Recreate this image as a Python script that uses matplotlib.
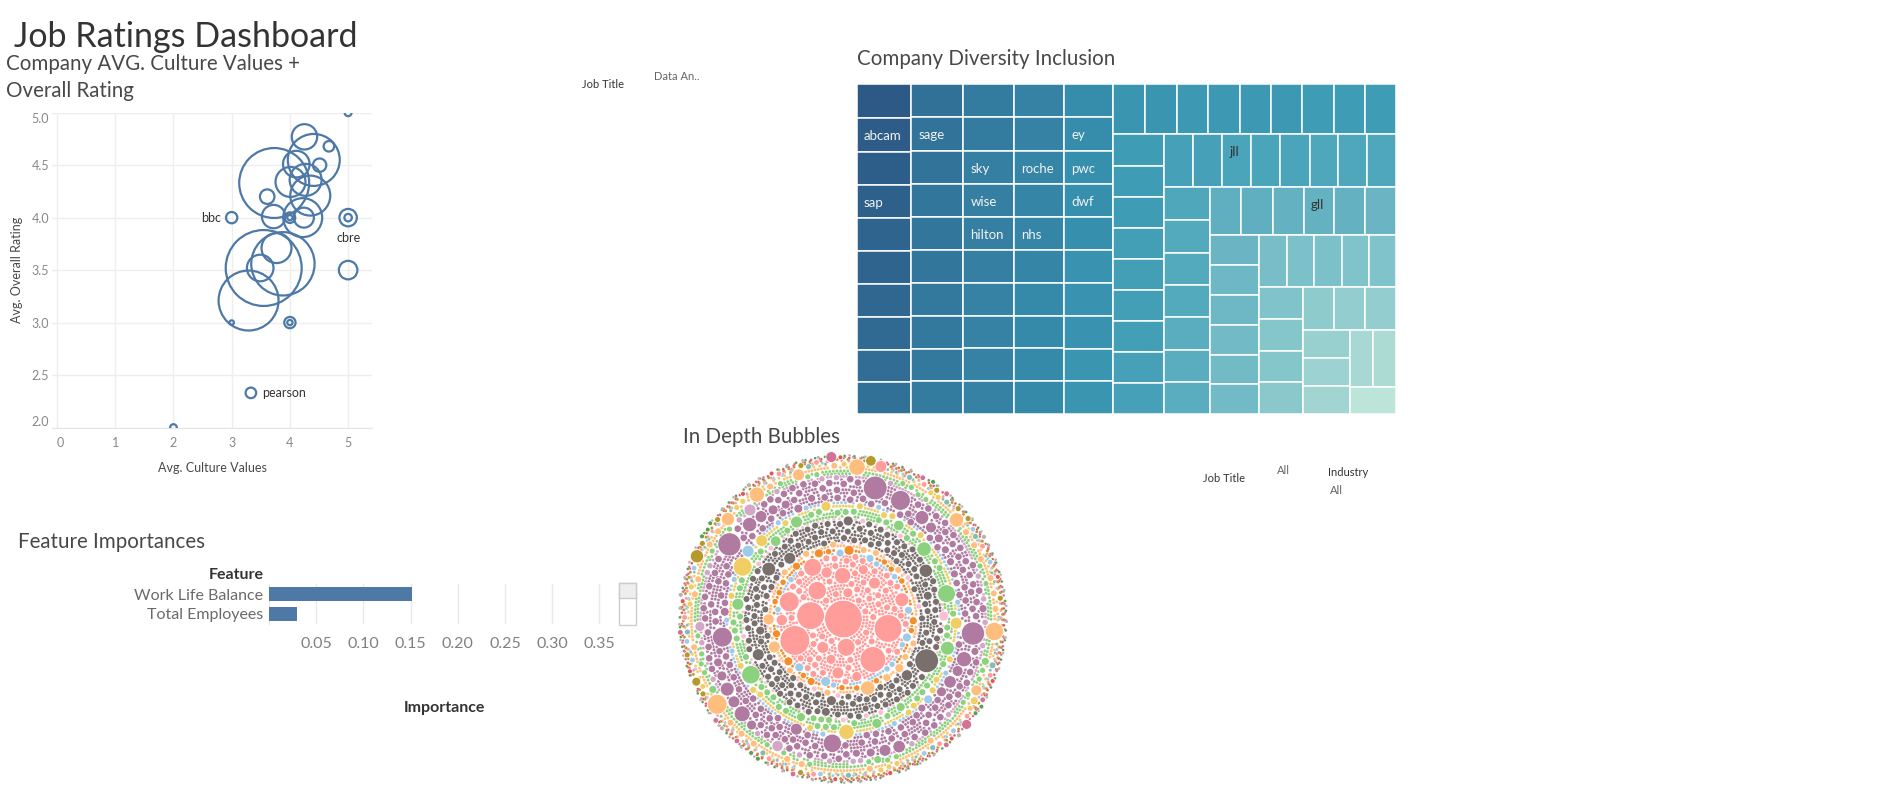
import math
import numpy as np
import matplotlib
matplotlib.use('Agg')
import matplotlib.pyplot as plt
from matplotlib.patches import Circle, Rectangle
from matplotlib.collections import PatchCollection
from matplotlib.colors import LinearSegmentedColormap, Normalize

W, H = 1881, 790
plt.rcParams['font.family'] = ['Lato', 'DejaVu Sans']

# ---------------- data ----------------
# scatter: avg culture values vs avg overall rating, size = reviews
sc_culture = [5.0, 4.25, 4.67, 4.41, 3.73, 4.11, 4.51, 4.01, 4.27, 4.35, 3.61, 3.72, 4.0, 4.0, 4.24,
              4.22, 3.0, 5.0, 5.0, 3.49, 3.77, 3.55, 3.88, 3.29, 3.0, 4.0, 4.0, 5.0, 3.33, 2.0]
sc_rating = [5.0, 4.77, 4.68, 4.55, 4.33, 4.51, 4.50, 4.34, 4.36, 4.21, 4.20, 4.01, 4.0, 4.0, 4.0,
             4.0, 4.0, 4.0, 4.0, 3.52, 3.71, 3.52, 3.56, 3.21, 3.0, 3.0, 3.0, 3.5, 2.33, 2.0]
sc_reviews = [12, 161, 28, 676, 1225, 177, 45, 225, 256, 400, 53, 137, 28, 7, 100,
              380, 32, 76, 14, 177, 225, 1444, 1005, 900, 5, 32, 7, 86, 28, 11]
sc_label_idx = [16, 17, 28]
sc_label_txt = ['bbc', 'cbre', 'pearson']

# treemap: company diversity & inclusion
tm_values = [151, 150, 149, 148, 147, 147, 146, 145, 144, 143,
             143, 142, 142, 141, 141, 141, 140, 140, 140, 139,
             139, 139, 138, 138, 138, 138, 137, 137, 137, 137,
             137, 137, 136, 136, 136, 136, 135, 135, 135, 135,
             134, 134, 133, 133, 133, 132, 132, 132, 131, 131,
             131, 131, 130, 130, 130, 130, 129, 129, 129,
             129, 129, 129, 128, 128, 128, 128, 127, 127,
             127, 127, 126, 126, 126, 125, 125, 125,
             125, 124, 124, 124, 123, 123, 123,
             122, 122, 121, 121, 121, 120,
             120, 119, 119, 118, 118, 118,
             117, 116, 116, 115, 115,
             115, 114, 114, 113,
             112, 111, 111,
             110, 109, 108,
             107, 106,
             103]
tm_label_idx = [1, 3, 11, 22, 23, 24, 32, 34, 41, 42, 43, 70, 86]
tm_label_txt = ['abcam', 'sap', 'sage', 'sky', 'wise', 'hilton', 'roche', 'nhs',
                'ey', 'pwc', 'dwf', 'jll', 'gll']

# feature importances
feat_names = ['Work Life Balance', 'Total Employees']
feat_imp = [0.151, 0.030]

# packed bubbles, colour groups from centre outwards
bub_group = ['pink', 'lblue', 'orange', 'lorange', 'lpink', 'gray', 'lpink', 'lgreen', 'yellow',
             'lblue', 'purple', 'lpurple', 'lgreen', 'lorange', 'yellow', 'teal', 'lblue', 'pink',
             'olive', 'red', 'dpink', 'green', 'lgray']
bub_big = [
    [361, 225, 196, 196, 169, 100, 86, 81, 81, 69, 49, 36, 36, 36, 32, 32, 25, 25, 25, 25],
    [25, 20, 20, 16, 16, 16],
    [25, 20, 20, 16, 16, 16, 16],
    [86, 53, 36, 32, 20, 16],
    [],
    [144, 49, 45, 36, 36, 32, 25, 25, 20, 20, 20],
    [25],
    [121, 86, 81, 53, 49, 36, 36, 28, 28, 25, 20, 20],
    [90, 59, 36, 36, 25],
    [36, 20],
    [144, 137, 137, 100, 100, 86, 64, 59, 53, 49, 49, 40, 40, 36, 36, 36, 36, 30, 30, 25, 25, 25,
     25, 20, 20, 20, 20, 20, 20, 16, 16, 16, 16, 16, 16, 16, 16],
    [36, 32, 25],
    [16, 16, 16],
    [100, 86, 69, 59, 53, 45, 36, 30],
    [16],
    [12],
    [],
    [36],
    [45, 28, 20],
    [],
    [30, 25],
    [],
    [],
]
bub_n_mid = [55, 8, 12, 10, 4, 120, 8, 40, 15, 10, 130, 20, 25, 20, 12, 8, 8, 10, 10, 10, 8, 8, 5]
bub_mid = [12, 10, 10, 12, 8, 12, 8, 12, 12, 9, 14, 10, 9, 12, 9, 9, 8, 8, 9, 6, 8, 6, 6]
bub_n_small = [330, 60, 70, 80, 40, 550, 80, 250, 150, 130, 620, 170, 400, 160, 110, 75,
               70, 90, 110, 150, 60, 80, 50]
bub_small = [2.5] * 19 + [2.0, 2.0, 2.0, 2.0]

# ---------------- styles ----------------
BLUE = '#4e79a7'
pal = {'pink': '#ff9d9a', 'lblue': '#a0cbe8', 'orange': '#f28e2b', 'lorange': '#ffbe7d',
       'lpink': '#fabfd2', 'gray': '#79706e', 'lgreen': '#8cd17d', 'yellow': '#f1ce63',
       'purple': '#b07aa1', 'lpurple': '#d4a6c8', 'teal': '#86bcb6', 'olive': '#b6992d',
       'red': '#e15759', 'dpink': '#d37295', 'green': '#59a14f', 'lgray': '#bab0ac'}
blue_teal = ['#bce4d8', '#aedcd5', '#a1d5d2', '#95cecf', '#89c8cc', '#7ec1ca', '#72bac6',
             '#66b2c2', '#59acbe', '#4ba5ba', '#419eb6', '#3b96b2', '#358ead', '#3586a7',
             '#347ea1', '#32779b', '#316f96', '#2f6790', '#2d608a', '#2c5985']
TXT = '#484848'

fig = plt.figure(figsize=(W / 100, H / 100), dpi=100)


def ftext(x, y, s, **kw):
    return fig.text(x / W, 1 - y / H, s, **kw)


def px_axes(x0, y0, x1, y1):
    return fig.add_axes([x0 / W, 1 - y1 / H, (x1 - x0) / W, (y1 - y0) / H])


# ---------------- titles ----------------
ftext(14, 47, 'Job Ratings Dashboard', fontsize=24.5, color='#333333', va='baseline')
ftext(6, 70, 'Company AVG. Culture Values +', fontsize=14.8, color=TXT, va='baseline')
ftext(6, 97, 'Overall Rating', fontsize=14.8, color=TXT, va='baseline')
ftext(857, 65, 'Company Diversity Inclusion', fontsize=14.8, color=TXT, va='baseline')
ftext(683, 443, 'In Depth Bubbles', fontsize=14.8, color=TXT, va='baseline')
ftext(18, 548, 'Feature Importances', fontsize=14.8, color=TXT, va='baseline')

# filters
ftext(582, 85, 'Job Title', fontsize=8, color='#333333', va='center')
ftext(654, 76, 'Data An..', fontsize=8, color='#666666', va='center')
ftext(1203, 479, 'Job Title', fontsize=8, color='#333333', va='center')
ftext(1277, 471, 'All', fontsize=8, color='#666666', va='center')
ftext(1328, 472, 'Industry', fontsize=8, color='#333333', va='center')
ftext(1330, 490, 'All', fontsize=8, color='#666666', va='center')

# ---------------- scatter ----------------
ax = px_axes(52, 112.7, 372, 427.5)
ax.set_xlim(-0.086, 5.41)
ax.set_ylim(2.0, 5.0)
sizes = [v * 2.07 for v in sc_reviews]
ax.scatter(sc_culture, sc_rating, s=sizes, facecolors='none', edgecolors=BLUE,
           linewidths=1.6, zorder=3, clip_on=True)
for s in ['top', 'right', 'left']:
    ax.spines[s].set_visible(False)
ax.spines['bottom'].set_color('#e6e6e6')
ax.set_xticks(range(6))
ax.set_xticklabels([str(i) for i in range(6)])
yt = [2.0, 2.5, 3.0, 3.5, 4.0, 4.5, 5.0]
ax.set_yticks(yt)
ax.set_yticklabels(['%.1f' % v for v in yt])
ax.tick_params(axis='x', length=0, pad=7, labelsize=9, labelcolor='#888888')
ax.tick_params(axis='y', length=0, pad=2, labelsize=9, labelcolor='#888888')
ax.get_xticklabels()[0].set_horizontalalignment('left')
ax.get_yticklabels()[0].set_verticalalignment('bottom')
ax.get_yticklabels()[-1].set_verticalalignment('top')
ax.grid(True, color='#eeeeee', linewidth=1)
ax.set_axisbelow(True)
ax.set_xlabel('Avg. Culture Values', fontsize=9, color=TXT, labelpad=9)
ax.set_ylabel('Avg. Overall Rating', fontsize=9, color=TXT, labelpad=6)
for i, t in zip(sc_label_idx, sc_label_txt):
    r_pt = np.sqrt(sc_reviews[i]) * 0.72
    if t == 'bbc':
        ax.annotate(t, (sc_culture[i], sc_rating[i]), xytext=(-r_pt - 3.5, 0),
                    textcoords='offset points', ha='right', va='center', fontsize=9, color='#333333')
    elif t == 'cbre':
        ax.annotate(t, (sc_culture[i], sc_rating[i]), xytext=(0, -14.5),
                    textcoords='offset points', ha='center', va='center', fontsize=9, color='#333333')
    else:
        ax.annotate(t, (sc_culture[i], sc_rating[i]), xytext=(r_pt + 4, 0),
                    textcoords='offset points', ha='left', va='center', fontsize=9, color='#333333')

# ---------------- treemap ----------------
tx0, ty0, tx1, ty1 = 857, 84, 1396, 414
axt = px_axes(tx0, ty0, tx1, ty1)
tw, th = tx1 - tx0, ty1 - ty0
axt.set_xlim(0, tw)
axt.set_ylim(th, 0)
axt.axis('off')
strips = [('v', 10)] * 5 + [('h', 9), ('v', 9), ('h', 8), ('v', 7), ('h', 6), ('v', 6),
                            ('h', 5), ('v', 4), ('h', 3), ('v', 3), ('h', 2), ('v', 1)]
cmap = LinearSegmentedColormap.from_list('bt', blue_teal)
norm = Normalize(min(tm_values), max(tm_values))
rx, ry, rw, rh = 0.0, 0.0, float(tw), float(th)
rem = float(sum(tm_values))
pos = 0
cells = []
for orient, n in strips:
    vals = tm_values[pos:pos + n]
    s = sum(vals)
    if orient == 'v':
        cw = rw * s / rem
        yy = ry
        for v in vals:
            ch = rh * v / s
            cells.append((rx, yy, cw, ch))
            yy += ch
        rx += cw
        rw -= cw
    else:
        chh = rh * s / rem
        xx = rx
        for v in vals:
            cww = rw * v / s
            cells.append((xx, ry, cww, chh))
            xx += cww
        ry += chh
        rh -= chh
    rem -= s
    pos += n
for (x, y, w, h), v in zip(cells, tm_values):
    axt.add_patch(Rectangle((x, y), w, h, facecolor=cmap(norm(v)), edgecolor='white', linewidth=1.1))
for i, t in zip(tm_label_idx, tm_label_txt):
    x, y, w, h = cells[i]
    dark = norm(tm_values[i]) < 0.5
    axt.text(x + 7, y + 18, t, fontsize=9.5, va='center', ha='left',
             color='#333333' if dark else '#f2f2f2')

# ---------------- feature importances ----------------
axf = px_axes(269, 584, 615, 624)
axf.set_xlim(0, 0.3665)
axf.set_ylim(1.5, -0.5)
axf.barh(range(len(feat_names)), feat_imp, height=0.7, color=BLUE, zorder=3)
axf.set_xticks([0.05, 0.10, 0.15, 0.20, 0.25, 0.30, 0.35])
axf.set_xticklabels(['0.05', '0.10', '0.15', '0.20', '0.25', '0.30', '0.35'])
axf.set_yticks(range(len(feat_names)))
axf.set_yticklabels(feat_names)
axf.tick_params(axis='x', length=0, pad=9, labelsize=11.5, labelcolor='#808080')
axf.tick_params(axis='y', length=0, pad=4, labelsize=11.5, labelcolor='#6a6a6a')
for s in ['top', 'right', 'bottom']:
    axf.spines[s].set_visible(False)
axf.spines['left'].set_color('#e6e6e6')
axf.grid(True, axis='x', color='#eaeaea', linewidth=1)
ftext(264, 575, 'Feature', fontsize=11.5, color='#333333', weight='bold', ha='right', va='center')
ftext(444, 708, 'Importance', fontsize=11.5, color='#333333', weight='bold', ha='center', va='center')
# scroll bar
fig.patches.append(Rectangle((619 / W, 1 - 625 / H), 17 / W, 42 / H, transform=fig.transFigure,
                             facecolor='white', edgecolor='#cccccc', linewidth=1))
fig.patches.append(Rectangle((619 / W, 1 - 598 / H), 17 / W, 15 / H, transform=fig.transFigure,
                             facecolor='#eeeeee', edgecolor='#cccccc', linewidth=1))

# ---------------- packed bubbles ----------------
CX, CY, RD, DENS = 843, 619, 164, 0.80
axb = px_axes(CX - 176, CY - 176, CX + 176, CY + 176)
axb.set_xlim(-176, 176)
axb.set_ylim(-176, 176)
axb.axis('off')
GOLD = np.pi * (3 - np.sqrt(5))
grp_sum = [sum(b) + nm * m + n * s for b, nm, m, n, s in
           zip(bub_big, bub_n_mid, bub_mid, bub_n_small, bub_small)]
total = sum(grp_sum)
kv = RD ** 2 * DENS / total
cum = np.cumsum([0] + grp_sum)
bounds = [(RD * np.sqrt(cum[i] / total), RD * np.sqrt(cum[i + 1] / total)) for i in range(len(grp_sum))]

# big and medium bubbles: first free spot inside each ring, scanned over a dense candidate set
bx, by, br, bc = [], [], [], []
for gi, g in enumerate(bub_group):
    r_in, r_out = bounds[gi]
    a, b = max(0.0, r_in - 3), r_out + 3
    nc = int(np.pi * (b * b - a * a) / 1.2)
    step = int(nc * 0.6180339887)
    while math.gcd(step, nc) != 1:
        step += 1
    ii = (np.arange(nc) * step + gi * 97) % nc
    cr = np.sqrt(a * a + (ii + 0.5) / nc * (b * b - a * a))
    ca = ii * GOLD + gi
    cx, cy = cr * np.cos(ca), cr * np.sin(ca)
    clr = np.full(nc, 1e9)
    for x, y, r in zip(bx, by, br):
        clr = np.minimum(clr, np.hypot(cx - x, cy - y) - r)
    vals = sorted(bub_big[gi], reverse=True) + [bub_mid[gi]] * bub_n_mid[gi]
    for v in vals:
        rb = np.sqrt(kv * v)
        lo = r_in + 0.4 * rb if r_in > 0 else 0.0
        hi = r_out - 0.4 * rb
        if hi < lo:
            lo = hi = 0.5 * (r_in + r_out)
        ok = np.nonzero((clr >= rb + 0.4) & (cr >= lo - 1) & (cr <= hi + 1))[0]
        if len(ok) == 0:
            continue
        p = ok[0]
        x, y = cx[p], cy[p]
        bx.append(x); by.append(y); br.append(rb); bc.append(pal[g])
        clr = np.minimum(clr, np.hypot(cx - x, cy - y) - rb)
BX, BY, BR = np.array(bx), np.array(by), np.array(br)

# small bubbles: rows of beads round each ring, skipping the bigger ones
small_patches, small_cols = [], []
for gi, g in enumerate(bub_group):
    r_in, r_out = bounds[gi]
    n, sv = bub_n_small[gi], bub_small[gi]
    frac = n * sv / grp_sum[gi]
    want = n / max(frac, 0.25)
    rs = np.sqrt(kv * sv)
    gap = 2.05 * rs
    nrows = max(1, int(round((r_out - r_in) / gap)))
    stp = (r_out - r_in) / nrows
    radii = r_in + stp * (np.arange(nrows) + 0.5)
    cap = np.maximum(1, np.floor(2 * np.pi * radii / gap))
    scale = min(1.0, want / cap.sum())
    for m, (rr, c) in enumerate(zip(radii, cap)):
        k = max(1, int(round(c * scale)))
        aa = gi * 0.9 + m * GOLD + 2 * np.pi * np.arange(k) / k
        xs, ys = rr * np.cos(aa), rr * np.sin(aa)
        d = np.hypot(xs[:, None] - BX[None, :], ys[:, None] - BY[None, :])
        keep = ~np.any(d < BR[None, :] + 0.5 * rs, axis=1)
        for x, y in zip(xs[keep], ys[keep]):
            small_patches.append(Circle((x, y), rs))
            small_cols.append(pal[g])
axb.add_collection(PatchCollection(small_patches, facecolors=small_cols, edgecolors='white',
                                   linewidths=0.15))
axb.add_collection(PatchCollection([Circle((x, y), r) for x, y, r in zip(bx, by, br)],
                                   facecolors=bc, edgecolors='white', linewidths=0.5))

fig.savefig('out.png', dpi=100, facecolor='white')
